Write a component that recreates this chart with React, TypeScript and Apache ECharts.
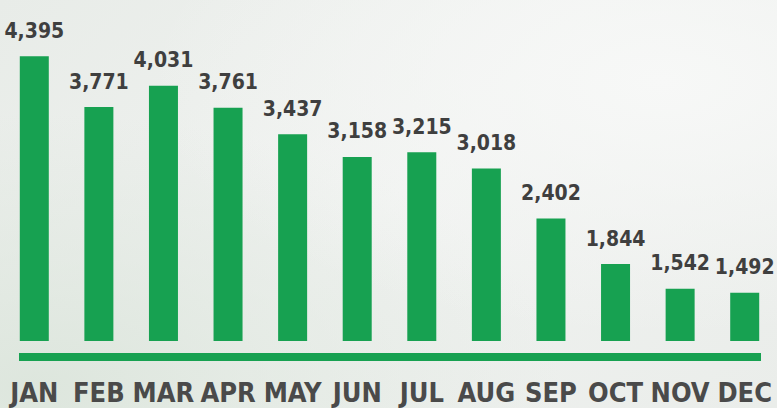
import React, { useEffect, useRef } from "react";
import * as echarts from "echarts";

const months = ["JAN", "FEB", "MAR", "APR", "MAY", "JUN", "JUL", "AUG", "SEP", "OCT", "NOV", "DEC"];
const values = [4395, 3771, 4031, 3761, 3437, 3158, 3215, 3018, 2402, 1844, 1542, 1492];

const GREEN = "#17a151";
const TEXT = "#4a4a4a";
const FONT = "'DejaVu Sans Condensed', 'Liberation Sans Narrow', sans-serif";

export default function App() {
  const ref = useRef<HTMLDivElement>(null);
  useEffect(() => {
    if (!ref.current) return;
    const chart = echarts.init(ref.current, null, { renderer: "svg" });
    chart.setOption({
      animation: false,
      grid: { left: 2, right: -4, top: 15, bottom: 67 },
      xAxis: {
        type: "category",
        data: months,
        axisLine: { show: false },
        axisTick: { show: false },
        axisLabel: {
          interval: 0,
          margin: 38,
          color: TEXT,
          fontFamily: FONT,
          fontSize: 27,
          fontWeight: "bold",
        },
      },
      yAxis: {
        type: "value",
        min: 900,
        max: 4900,
        show: false,
        splitLine: { show: false },
      },
      graphic: [
        {
          type: "rect",
          shape: { x: 19, y: 353, width: 742, height: 8 },
          style: { fill: GREEN },
          silent: true,
        },
      ],
      series: [
        {
          type: "bar",
          data: values,
          barWidth: 29,
          itemStyle: { color: GREEN },
          label: {
            show: true,
            position: "top",
            distance: 15,
            color: "#3f3f3f",
            fontFamily: FONT,
            fontSize: 21,
            fontWeight: "bold",
            formatter: (p: any) => p.value.toLocaleString("en-US"),
          },
        },
      ],
    });
    return () => chart.dispose();
  }, []);

  return (
    <div
      style={{
        position: "fixed",
        left: 0,
        top: 0,
        width: 777,
        height: 408,
        background:
          "radial-gradient(ellipse at 85% 20%, #f7f8f7 0%, rgba(247,248,247,0) 55%), radial-gradient(ellipse at 5% 95%, #dde6dd 0%, rgba(221,230,221,0) 50%), linear-gradient(135deg, #e8ece8 0%, #f0f2f0 50%, #eaedea 100%)",
      }}
    >
      <div ref={ref} style={{ width: 777, height: 408 }} />
    </div>
  );
}
